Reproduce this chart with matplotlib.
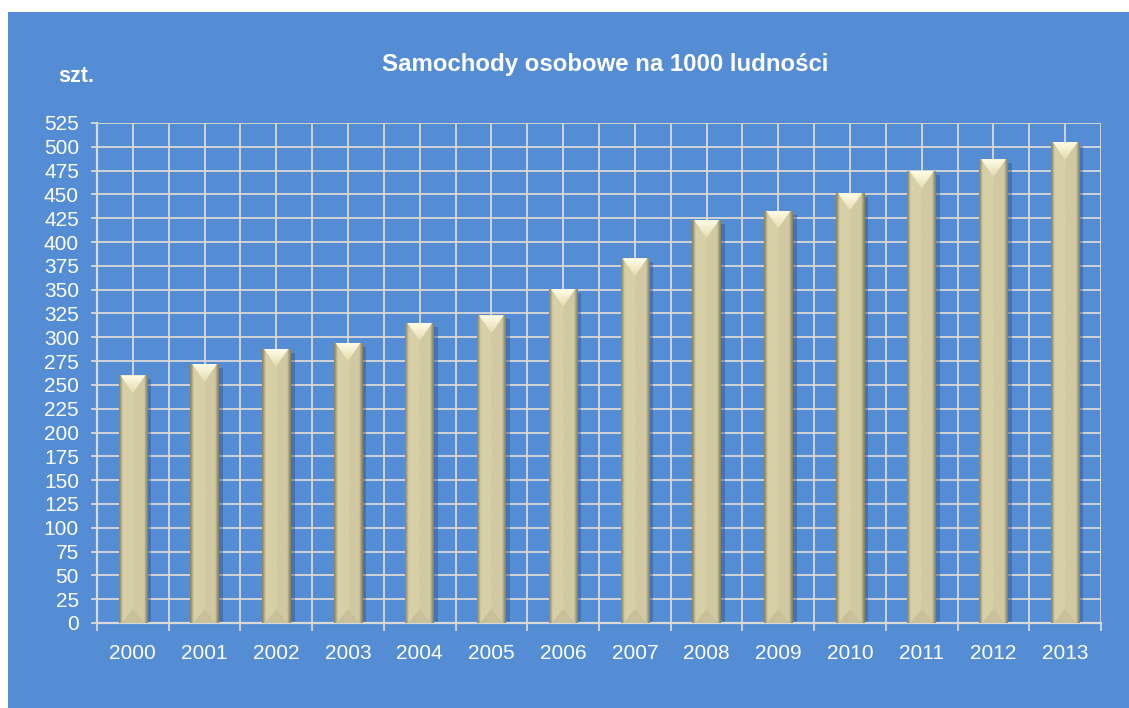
import numpy as np
import matplotlib.pyplot as plt
from matplotlib.patches import Rectangle, Polygon
import matplotlib.transforms as mtransforms

# --- Data ---
years = ["2000", "2001", "2002", "2003", "2004", "2005", "2006",
         "2007", "2008", "2009", "2010", "2011", "2012", "2013"]
cars_per_1000 = [260, 272, 288, 294, 315, 323, 351,
                 383, 423, 433, 452, 475, 487, 505]
y_ticks = list(range(0, 526, 25))

title = "Samochody osobowe na 1000 ludności"
unit_label = "szt."

# --- Style ---
bg_blue = "#558DD5"
grid_col = "#D9D9D9"
bar_w = 0.40

plt.rcParams['font.family'] = ['Liberation Sans', 'DejaVu Sans']

fig = plt.figure(figsize=(11.29, 7.08), dpi=100)
fig.patch.set_facecolor("white")
fig.patches.append(Rectangle((8 / 1129, 0), 1, 1 - 12 / 708, transform=fig.transFigure,
                             facecolor=bg_blue, edgecolor="none", zorder=-5))

ax = fig.add_axes([97 / 1129, 85 / 708, 1004 / 1129, 500 / 708])
ax.set_zorder(2)
ax.set_facecolor("none")

x = np.arange(len(years))

# pixels per data unit, for bevel sizes
ppx = 1004 / len(years)
ppy = 500 / 525.0

# horizontal shading profile for the bevelled column
prof = np.linspace(-1, 1, 60)
edge = np.clip((np.abs(prof) - 0.76) / 0.24, 0, 1) ** 0.8
dark = np.array([0x86, 0x7F, 0x5A]) / 255
mid = np.array([0xD1, 0xC9, 0xA2]) / 255
rgb = mid[None, :] * (1 - edge[:, None]) + dark[None, :] * edge[:, None]
rgb[:30] = np.clip(rgb[:30] * 1.03, 0, 1)
img = rgb[None, :, :]

# vertical gradient for the top bevel triangle
t = np.linspace(0, 1, 40)[:, None]
top_hi = np.array([0xFF, 0xFD, 0xE8]) / 255
top_lo = np.array([0xE2, 0xDA, 0xAE]) / 255
tri_img = (top_hi[None, :] * (1 - t) + top_lo[None, :] * t)[:, None, :]

shadow_off = mtransforms.offset_copy(ax.transData, fig=fig, x=4, y=-4, units="dots")

for xi, v in zip(x, cars_per_1000):
    x0, x1 = xi - bar_w / 2, xi + bar_w / 2
    # drop shadow
    ax.add_patch(Rectangle((x0, 0), bar_w, v, transform=shadow_off,
                           facecolor="#2C5490", alpha=0.45, edgecolor="none", zorder=2))
    # body
    body = Rectangle((x0, 0), bar_w, v, facecolor="none", edgecolor="none", zorder=3)
    ax.add_patch(body)
    im = ax.imshow(img, extent=(x0, x1, 0, v), aspect="auto", zorder=3,
                   interpolation="bilinear")
    im.set_clip_path(body)
    # top bevel: light triangle with gradient
    th = 18 / ppy
    tri = Polygon([(x0 + 2 / ppx, v), (x1 - 2 / ppx, v), (xi, v - th)],
                  closed=True, facecolor="none", edgecolor="none", zorder=4)
    ax.add_patch(tri)
    ti = ax.imshow(tri_img, extent=(x0, x1, v - th, v), aspect="auto", zorder=4,
                   interpolation="bilinear")
    ti.set_clip_path(tri)
    # bottom bevel: faint chevron
    bh = 14 / ppy
    ax.add_patch(Polygon([(x0 + 3 / ppx, 0), (x1 - 3 / ppx, 0), (xi, bh)],
                         closed=True, facecolor="#C8C098", edgecolor="none", zorder=4))

ax.set_xlim(-0.5, len(years) - 0.5)
ax.set_ylim(0, 525)

# grid: horizontal every 25, vertical at category edges and centres
ax.set_yticks(y_ticks)
ax.set_xticks(np.arange(-0.5, len(years), 1.0))
ax.set_xticklabels([])
ax.set_xticks(x, minor=True)
ax.set_xticklabels(years, minor=True)
ax.grid(True, which="both", color=grid_col, lw=1.3, zorder=1)
ax.set_axisbelow(True)
for s in ["top", "right"]:
    ax.spines[s].set_visible(False)
for s in ["left", "bottom"]:
    ax.spines[s].set_color(grid_col)
    ax.spines[s].set_linewidth(1.6)
ax.tick_params(axis="y", which="major", colors=grid_col, length=4, width=1.3,
               labelcolor="white", labelsize=15, pad=9)
ax.tick_params(axis="x", which="major", colors=grid_col, length=6, width=1.3)
ax.tick_params(axis="x", which="minor", length=0, labelcolor="white",
               labelsize=15, pad=15)

fig.text(605 / 1129, 1 - 64 / 708, title, color="white", fontsize=17.3,
         fontweight="bold", ha="center", va="center")
fig.text(58 / 1129, 1 - 76 / 708, unit_label, color="white", fontsize=15.5,
         fontweight="bold", ha="left", va="center")

fig.savefig("out.png", dpi=100, facecolor=fig.get_facecolor())
